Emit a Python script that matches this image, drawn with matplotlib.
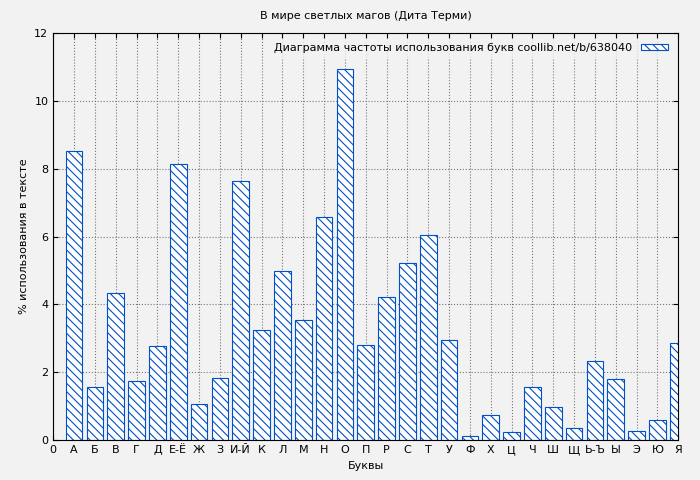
import matplotlib
matplotlib.use("Agg")
import matplotlib.pyplot as plt

labels = ["0","А","Б","В","Г","Д","Е-Ё","Ж","З","И-Й","К","Л","М","Н","О","П","Р","С","Т","У","Ф","Х","Ц","Ч","Ш","Щ","Ь-Ъ","Ы","Э","Ю","Я"]
values = [8.52,1.56,4.34,1.74,2.77,8.14,1.06,1.83,7.64,3.24,4.99,3.54,6.58,10.94,2.80,4.22,5.22,6.05,2.95,0.12,0.74,0.24,1.56,0.97,0.35,2.33,1.80,0.27,0.59,2.86]

plt.rcParams['hatch.color'] = '#0050c8'
plt.rcParams['hatch.linewidth'] = 0.8
fig = plt.figure(figsize=(7, 4.8), dpi=100, facecolor='#f2f2f2')
ax = fig.add_axes([0.076, 0.083, 0.893, 0.848])
ax.set_facecolor('#f2f2f2')
x = list(range(1, len(values) + 1))
ax.bar(x, values, width=0.8, facecolor='white', edgecolor='#0050c8', hatch='\\\\\\\\', linewidth=0.8,
       label='Диаграмма частоты использования букв coollib.net/b/638040', zorder=2)
ax.set_xlim(0, 30)
ax.set_ylim(0, 12)
ax.set_xticks(range(len(labels)))
ax.set_xticklabels(labels)
ax.set_yticks(range(0, 13, 2))
ax.tick_params(labelsize=8, direction='in', top=True, right=True)
ax.grid(True, linestyle=':', color='#777777', linewidth=0.8, zorder=0)
ax.set_axisbelow(True)
ax.set_xlabel('Буквы', fontsize=8)
ax.set_ylabel('% использования в тексте', fontsize=8)
ax.set_title('В мире светлых магов (Дита Терми)', fontsize=8, pad=10)
leg = ax.legend(loc='upper right', fontsize=8, markerfirst=False, frameon=True, fancybox=False,
                handlelength=2.5, handleheight=0.4)
leg.get_frame().set_facecolor('#f2f2f2')
leg.get_frame().set_edgecolor('#f2f2f2')
fig.savefig('out.png', dpi=100, facecolor=fig.get_facecolor())
